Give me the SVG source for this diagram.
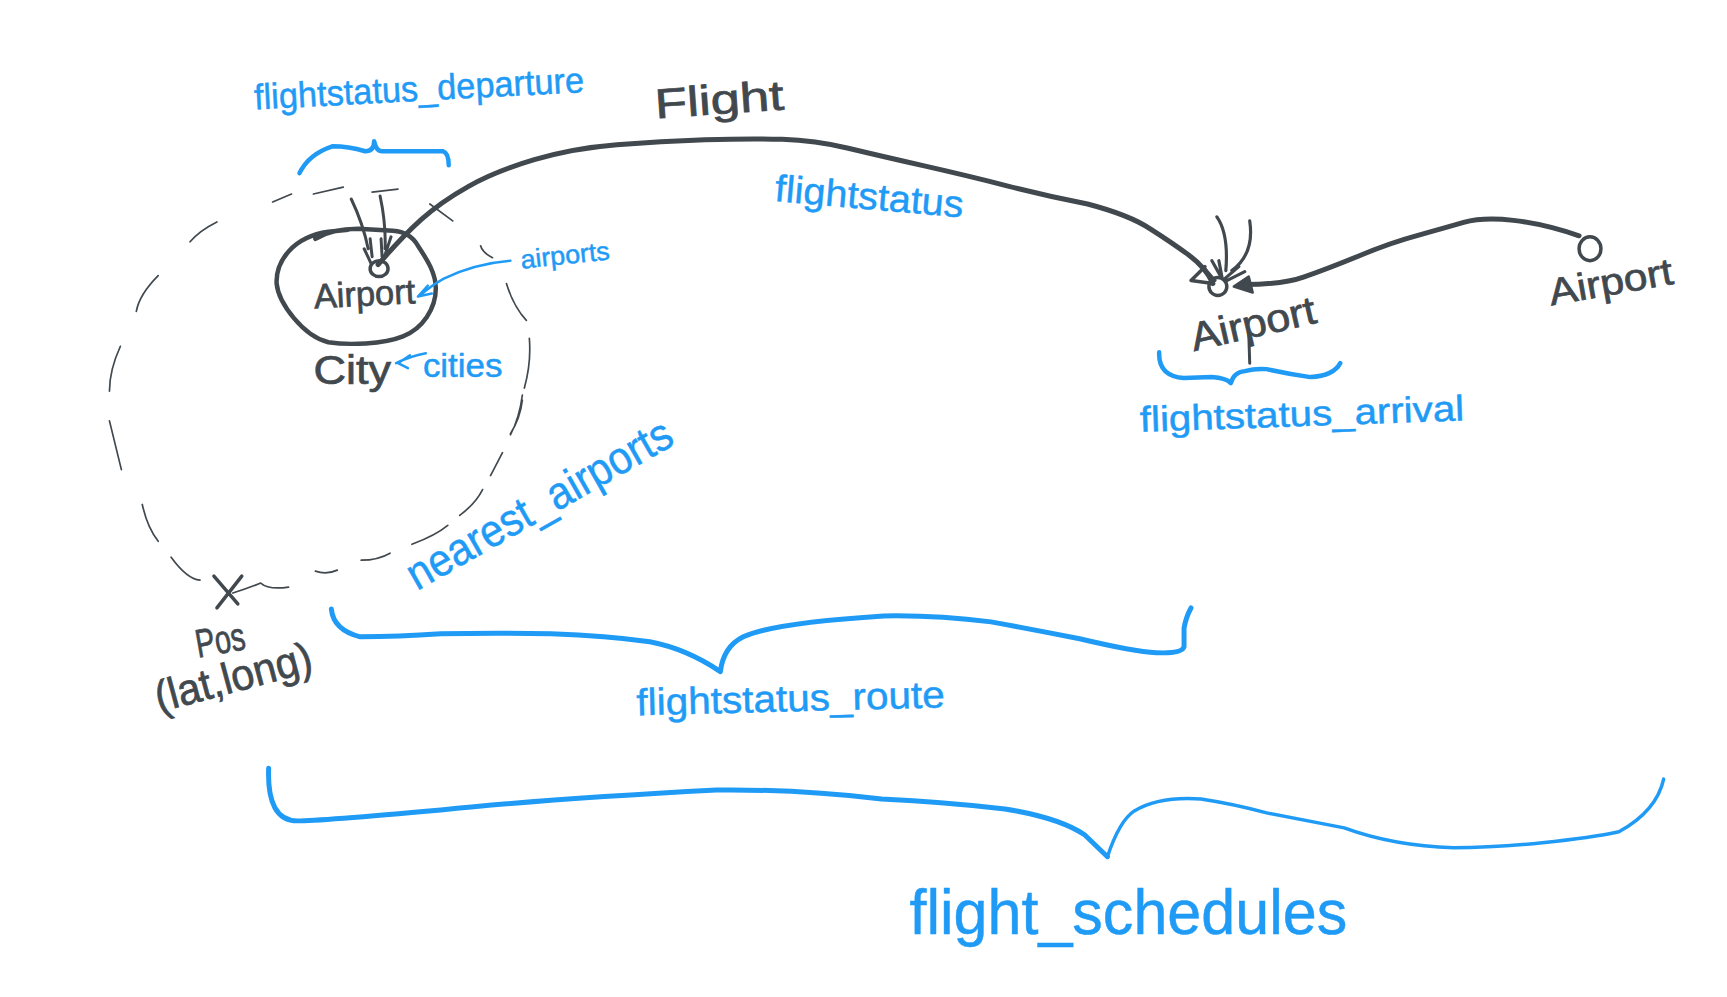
<svg xmlns="http://www.w3.org/2000/svg" width="1727" height="997" viewBox="0 0 1727 997">
<style>
.d{fill:none;stroke:#41484e;stroke-linecap:round;stroke-linejoin:round}
.b{fill:none;stroke:#1f9bf6;stroke-linecap:round;stroke-linejoin:round}
.h{stroke-width:1.7}
.k{font-family:"Liberation Sans",Arial,sans-serif;fill:#41484e;stroke:#41484e;stroke-width:.7}
.t{font-family:"Liberation Sans",Arial,sans-serif;fill:#1f9bf6;stroke:#1f9bf6;stroke-width:.5}
</style>
<rect width="1727" height="997" fill="#fff"/>
<g transform="scale(.995)">
<g id="connectors">
<path class="d" stroke-width="5" d="M380 266Q404 238 423.5 220.5Q443 203 470.5 187.5Q498 172 537 160.5Q576 149 620 145.5Q664 142 708.5 140.5Q753 139 786 140Q819 141 852.5 149Q886 157 930 167Q974 177 1013 187Q1052 197 1093 205Q1135 216 1156 230Q1178 244 1195 256.5Q1212 269 1219 285"/>
<path class="d" stroke-width="3.5" d="M1219 285L1197 282L1211 268"/>
<path class="d" stroke-width="5" d="M1587 237Q1552 225 1521 221.5Q1491 218 1471 223.5Q1452 229 1425 236.5Q1397 244 1365 257.5Q1332 271 1310 278.5Q1289 286 1250 286"/>
<path d="M1240 288L1255 278L1259 294Z" fill="#41484e" stroke="#41484e" stroke-width="2.5" stroke-linejoin="round"/>
</g>
<g id="nearest-radius">
<path class="d h" d="M274 203L293 195M315 195L345 188M374 193L400 190M432 205L455 222M483 247Q485 254 495 259M509 285Q516 308 529 322M532 340Q534 365 527 390M525 397Q522 420 513 437M218 223Q200 232 191 243M159 277Q140 296 137 313M121 348Q110 372 110 393M110 423L122 472M143 507Q148 530 159 544M172 560Q188 582 201 583M290 590Q270 593 262 586Q250 591 234 596M317 574Q328 578 339 573M363 563Q380 563 392 556M414 547Q438 538 450 528M462 518Q478 506 485 492M493 478L505 455M513 436Q523 420 525 402"/>
</g>
<g id="city">
<path class="d" stroke-width="4.5" d="M317 240C330 232 345 230 360 230L395 232C408 233 415 238 420 247C430 262 438 275 438 290C438 310 425 330 405 338C385 346 350 347 330 344C305 338 280 305 278 285C277 262 295 238 330 233L350 231"/>
<text class="k" transform="translate(315 386)" font-size="40" textLength="78" lengthAdjust="spacingAndGlyphs">City</text>
</g>
<g id="airport-departure">
<ellipse class="d" cx="381" cy="270" rx="9" ry="8" stroke-width="3.5"/>
<path class="d" stroke-width="3" d="M353 200Q365 225 370 250M382 197Q388 225 387 250M372 240L374 258M366 250L373 265M383 240L384 258M393 238L385 262"/>
<text class="k" transform="translate(316 310) rotate(-3)" font-size="35" textLength="102" lengthAdjust="spacingAndGlyphs">Airport</text>
</g>
<g id="airport-arrival">
<circle class="d" cx="1224" cy="288" r="9" stroke-width="3.5"/>
<path class="d" stroke-width="3.2" d="M1223 218Q1235 235 1232 272M1256 222Q1261 255 1238 272M1209 268L1221 282M1218 262L1227 278M1251 273L1233 282M1245 268L1231 280M1225 262L1228 278"/>
<path class="d" stroke-width="3" d="M1255 333L1256 365"/>
<text class="k" transform="translate(1200 353) rotate(-13)" font-size="40" textLength="128" lengthAdjust="spacingAndGlyphs">Airport</text>
</g>
<g id="airport-origin">
<ellipse class="d" cx="1598" cy="250" rx="11" ry="12" stroke-width="3.5"/>
<text class="k" transform="translate(1559 307) rotate(-10)" font-size="38" textLength="126" lengthAdjust="spacingAndGlyphs">Airport</text>
</g>
<g id="flight">
<text class="k" transform="translate(659 119) rotate(-4)" font-size="42" textLength="130" lengthAdjust="spacingAndGlyphs">Flight</text>
</g>
<g id="position">
<path class="d" stroke-width="3.5" d="M215 579L239 607M243 579L218 611"/>
<text class="k" transform="translate(199 661) rotate(-10)" font-size="40" textLength="50" lengthAdjust="spacingAndGlyphs">Pos</text>
<text class="k" transform="translate(160 716) rotate(-15)" font-size="44" textLength="162" lengthAdjust="spacingAndGlyphs">(lat,long)</text>
</g>
<g id="flightstatus-departure">
<path class="b" stroke-width="4.5" d="M301 174Q310 155 334 147Q350 147 367 152Q376 152 376 142Q378 152 384 152L445 152Q451 154 451 166"/>
<text class="t" transform="translate(256 110) rotate(-3)" font-size="36" textLength="332" lengthAdjust="spacingAndGlyphs">flightstatus_departure</text>
</g>
<g id="flightstatus">
<text class="t" transform="translate(778 202) rotate(5)" font-size="38" textLength="190" lengthAdjust="spacingAndGlyphs">flightstatus</text>
</g>
<g id="airports">
<path class="b" stroke-width="2.4" d="M513 262Q477 265 446 280Q432 288 422 297M430 287L420 298L434 295"/>
<text class="t" transform="translate(524 270) rotate(-6)" font-size="26" textLength="90" lengthAdjust="spacingAndGlyphs">airports</text>
</g>
<g id="cities">
<path class="b" stroke-width="2.4" d="M428 355Q412 358 398 365M412 357L400 365L410 370"/>
<text class="t" transform="translate(425 379)" font-size="33" textLength="80" lengthAdjust="spacingAndGlyphs">cities</text>
</g>
<g id="nearest-airports">
<text class="t" transform="translate(419 594) rotate(-29.6)" font-size="46" textLength="300" lengthAdjust="spacingAndGlyphs">nearest_airports</text>
</g>
<g id="flightstatus-arrival">
<path class="b" stroke-width="4.5" d="M1165 354Q1164 378 1190 380L1218 379Q1232 380 1237 385Q1240 374 1251 373Q1262 370 1273 371Q1295 376 1317 379Q1340 378 1347 365"/>
<text class="t" transform="translate(1146 434) rotate(-2)" font-size="36" textLength="326" lengthAdjust="spacingAndGlyphs">flightstatus_arrival</text>
</g>
<g id="flightstatus-route">
<path class="b" stroke-width="5" d="M333 612Q335 633 362 640Q400 640 443 637Q500 636 554 637Q610 639 653 645Q690 652 724 675Q727 650 747 640Q777 626 888 619Q940 618 996 625Q1040 633 1085 642Q1140 655 1162 656Q1188 657 1190 650L1190 631Q1192 620 1197 611"/>
<text class="t" transform="translate(640 719) rotate(-1.5)" font-size="38" textLength="310" lengthAdjust="spacingAndGlyphs">flightstatus_route</text>
</g>
<g id="flight-schedules">
<path class="b" stroke-width="5" d="M270 772Q268 825 299 825Q320 825 443 814Q550 803 720 794Q800 793 886 803Q950 806 1010 813Q1065 822 1090 839L1113 861"/>
<path class="b" stroke-width="3.5" d="M1113 861Q1125 825 1140 815Q1165 800 1207 803Q1240 808 1273 817Q1310 824 1351 832Q1400 850 1461 852Q1500 852 1550 847Q1600 842 1627 836Q1665 815 1672 783"/>
<text class="t" transform="translate(914 939)" font-size="64" textLength="440" lengthAdjust="spacingAndGlyphs">flight_schedules</text>
</g>
</g>
</svg>
